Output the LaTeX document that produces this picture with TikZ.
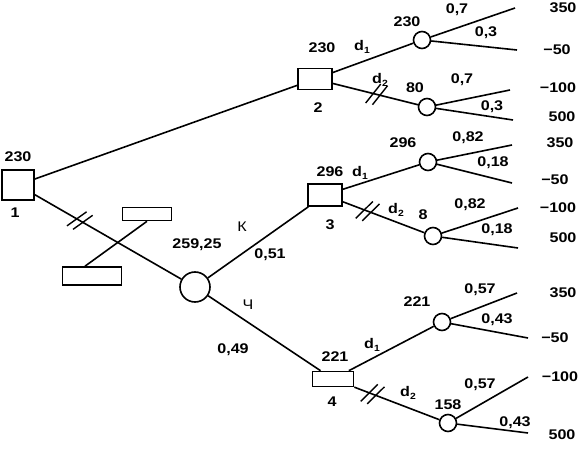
\documentclass[tikz,border=0pt]{standalone}
\usepackage{fontspec}
\setmainfont[FakeStretch=1.15]{Liberation Sans}
\usetikzlibrary{decorations.markings}
\begin{document}
\begin{tikzpicture}[x=1pt,y=-1pt,
  every node/.style={font=\fontsize{14}{16}\selectfont\bfseries},
  edge/.style={line width=1.6pt},
  dbox/.style={draw,line width=1.6pt,minimum width=#1,inner sep=0pt},
  chance/.style={draw,circle,line width=1.6pt,minimum size=#1,inner sep=0pt},
  lbl/.style={inner sep=0pt},
  hashed/.style={postaction={decorate,decoration={markings,
     mark=at position #1 with {\draw[line width=1.4pt] (-9pt,-11pt) -- (1pt,11pt);
                               \draw[line width=1.4pt] (-2pt,-11pt) -- (8pt,11pt);}}}}
]
\useasboundingbox (0,0) rectangle (582,452);
% decision nodes
\node[dbox=32pt,minimum height=30pt] (n1) at (18,185) {};
\node[dbox=34pt,minimum height=21pt] (n2) at (315,79) {};
\node[dbox=34pt,minimum height=22pt] (n3) at (325,195) {};
\node[dbox=41pt,minimum height=15pt] (n4) at (333,379) {};
% crossed-out boxes
\node[dbox=49pt,minimum height=13pt] (r1) at (147,214) {};
\node[dbox=59pt,minimum height=18pt] (r2) at (92,276) {};
% chance nodes
\node[chance=30pt] (c0) at (195,287) {};
\node[chance=17pt] (c2a) at (422,40) {};
\node[chance=17pt] (c2b) at (427,107) {};
\node[chance=17pt] (c3a) at (428,162) {};
\node[chance=17pt] (c3b) at (433,236) {};
\node[chance=17pt] (c4a) at (442,322) {};
\node[chance=17pt] (c4b) at (448,423) {};
% leaf ends
\coordinate (e1) at (515,8);   \coordinate (e2) at (517,50);
\coordinate (e3) at (510,90);  \coordinate (e4) at (513,120);
\coordinate (e5) at (512,145); \coordinate (e6) at (512,183);
\coordinate (e7) at (518,208); \coordinate (e8) at (518,248);
\coordinate (e9) at (517,293); \coordinate (e10) at (528,338);
\coordinate (e11) at (528,377);\coordinate (e12) at (528,433);
% edges
\draw[edge] (n1) -- (n2);
\draw[edge,hashed=0.31] (n1) -- (c0);
\draw[edge] (r1.south) -- ([xshift=-7pt]r2.north);
\draw[edge] (c0) -- (n3);
\draw[edge] (c0) -- (n4);
\draw[edge] (n2) -- (c2a);
\draw[edge,hashed=0.52] (n2) -- (c2b);
\draw[edge] (n3) -- (c3a);
\draw[edge,hashed=0.31] (n3) -- (c3b);
\draw[edge] (n4) -- (c4a);
\draw[edge,hashed=0.22] (n4) -- (c4b);
\draw[edge] (c2a) -- (e1); \draw[edge] (c2a) -- (e2);
\draw[edge] (c2b) -- (e3); \draw[edge] (c2b) -- (e4);
\draw[edge] (c3a) -- (e5); \draw[edge] (c3a) -- (e6);
\draw[edge] (c3b) -- (e7); \draw[edge] (c3b) -- (e8);
\draw[edge] (c4a) -- (e9); \draw[edge] (c4a) -- (e10);
\draw[edge] (c4b) -- (e11);\draw[edge] (c4b) -- (e12);
% labels
\node[lbl] (t1) at (18,157) {230};
\node[lbl] (t1b) at (15,213) {1};
\node[lbl] (t2) at (322,48) {230};
\node[lbl] (t2b) at (318,108) {2};
\node[lbl] (t2d1) at (362,47) {d\raisebox{-0.5ex}{\small 1}};
\node[lbl] (t2d2) at (380,80) {d\raisebox{-0.5ex}{\small 2}};
\node[lbl] at (407,22) {230};
\node[lbl] at (457,10) {0,7};
\node[lbl] at (486,33) {0,3};
\node[lbl] at (563,8) {350};
\node[lbl] at (557,50) {−50};
\node[lbl] at (415,88) {80};
\node[lbl] at (462,80) {0,7};
\node[lbl] at (492,107) {0,3};
\node[lbl] at (558,88) {−100};
\node[lbl] at (562,117) {500};
\node[lbl] at (330,172) {296};
\node[lbl] at (330,225) {3};
\node[lbl] at (360,173) {d\raisebox{-0.5ex}{\small 1}};
\node[lbl] at (396,210) {d\raisebox{-0.5ex}{\small 2}};
\node[lbl] at (403,143) {296};
\node[lbl] at (468,138) {0,82};
\node[lbl] at (493,163) {0,18};
\node[lbl] at (560,143) {350};
\node[lbl] at (555,180) {−50};
\node[lbl] at (423,215) {8};
\node[lbl] at (470,205) {0,82};
\node[lbl] at (497,230) {0,18};
\node[lbl] at (558,208) {−100};
\node[lbl] at (563,238) {500};
\node[lbl] at (335,357) {221};
\node[lbl] at (332,402) {4};
\node[lbl] at (372,345) {d\raisebox{-0.5ex}{\small 1}};
\node[lbl] at (408,393) {d\raisebox{-0.5ex}{\small 2}};
\node[lbl] at (417,302) {221};
\node[lbl] at (480,290) {0,57};
\node[lbl] at (497,320) {0,43};
\node[lbl] at (563,293) {350};
\node[lbl] at (555,338) {−50};
\node[lbl] at (448,405) {158};
\node[lbl] at (480,385) {0,57};
\node[lbl] at (515,423) {0,43};
\node[lbl] at (560,377) {−100};
\node[lbl] at (562,435) {500};
\node[lbl] at (197,245) {259,25};
\node[lbl,font=\fontsize{14}{16}\selectfont] at (242,227) {К};
\node[lbl] at (270,255) {0,51};
\node[lbl,font=\fontsize{14}{16}\selectfont] at (248,305) {Ч};
\node[lbl] at (233,350) {0,49};
\end{tikzpicture}
\end{document}
